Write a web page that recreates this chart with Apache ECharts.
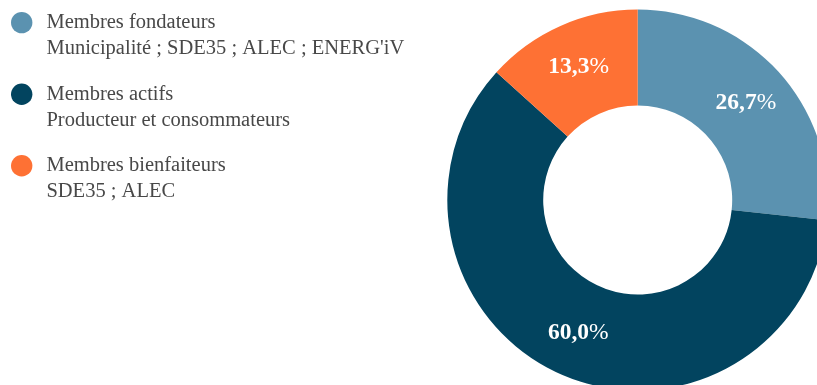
<!DOCTYPE html>
<html>
<head>
<meta charset="utf-8">
<script src="https://cdn.jsdelivr.net/npm/echarts@6/dist/echarts.min.js"></script>
<style>
html,body{margin:0;padding:0;background:#fff;}
#chart{width:817px;height:385px;}
</style>
</head>
<body>
<div id="chart"></div>
<script>
const categories = ['Membres fondateurs', 'Membres actifs', 'Membres bienfaiteurs'];
const subtitles = ["Municipalité ; SDE35 ; ALEC ; ENERG'iV", 'Producteur et consommateurs', 'SDE35 ; ALEC'];
const shares = [26.7, 60.0, 13.3];
const colors = ['#5b92b0', '#02445f', '#fe7134'];

const chart = echarts.init(document.getElementById('chart'));
const data = categories.map((c, i) => ({ name: c, value: shares[i], itemStyle: { color: colors[i] } }));

chart.setOption({
  animation: false,
  legend: {
    orient: 'vertical',
    left: 11,
    top: -16.4,
    padding: 0,
    icon: 'circle',
    itemWidth: 21.4,
    itemHeight: 21.4,
    itemGap: -6.4,
    selectedMode: false,
    data: categories,
    formatter: function (name) {
      const i = categories.indexOf(name);
      return ' \n' + name + '\n' + subtitles[i];
    },
    textStyle: {
      fontFamily: 'Liberation Serif',
      fontSize: 20.5,
      lineHeight: 26,
      color: '#484848',
      padding: [0, 0, 0, 9]
    }
  },
  series: [{
    type: 'pie',
    center: [637.7, 200],
    radius: [94.5, 190.4],
    startAngle: 90,
    clockwise: true,
    silent: true,
    labelLine: { show: false },
    label: {
      show: true,
      position: 'inside',
      formatter: function (p) {
        return '{n|' + p.value.toFixed(1).replace('.', ',') + '}{p|%}';
      },
      rich: {
        n: { fontFamily: 'Liberation Serif', fontWeight: 'bold', fontSize: 23.5, color: '#fff' },
        p: { fontFamily: 'Liberation Serif', fontWeight: 'normal', fontSize: 23.5, color: '#fff' }
      }
    },
    data: data
  }]
});
</script>
</body>
</html>
